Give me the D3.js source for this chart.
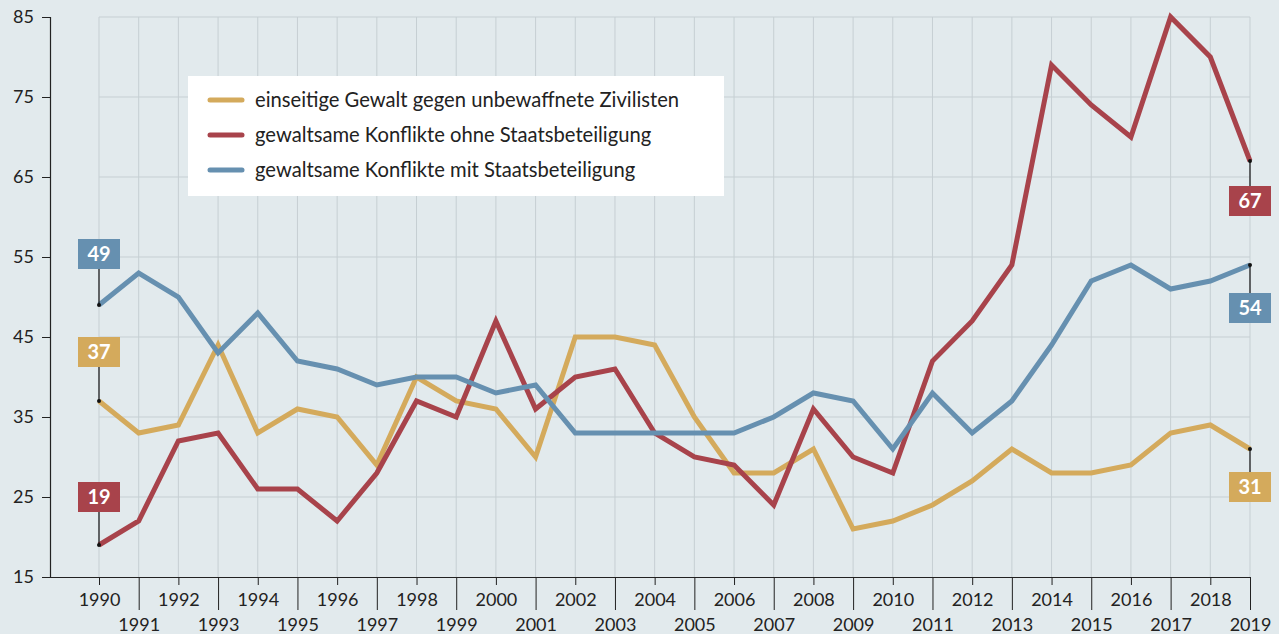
<!DOCTYPE html>
<html>
<head>
<meta charset="utf-8">
<script src="https://cdn.jsdelivr.net/npm/d3@7"></script>
<style>
  body { margin: 0; background: #e2eaed; }
  svg { display: block; font-family: Lato, "Open Sans", sans-serif; }
</style>
</head>
<body>
<svg id="chart"></svg>
<script>
var years = d3.range(1990, 2020)
var yTicks = [15, 25, 35, 45, 55, 65, 75, 85]

var einseitig = [37, 33, 34, 44, 33, 36, 35, 29, 40, 37, 36, 30, 45, 45, 44, 35, 28, 28, 31, 21, 22, 24, 27, 31, 28, 28, 29, 33, 34, 31]
var ohneStaat = [19, 22, 32, 33, 26, 26, 22, 28, 37, 35, 47, 36, 40, 41, 33, 30, 29, 24, 36, 30, 28, 42, 47, 54, 79, 74, 70, 85, 80, 67]
var mitStaat  = [49, 53, 50, 43, 48, 42, 41, 39, 40, 40, 38, 39, 33, 33, 33, 33, 33, 35, 38, 37, 31, 38, 33, 37, 44, 52, 54, 51, 52, 54]

var seriesNames = [
  "einseitige Gewalt gegen unbewaffnete Zivilisten",
  "gewaltsame Konflikte ohne Staatsbeteiligung",
  "gewaltsame Konflikte mit Staatsbeteiligung"
]
var colors = ["#d4aa5c", "#a8434b", "#6690b0"]

var series = [
  {name: seriesNames[0], values: einseitig, color: colors[0], startOff: -49, endOff: 38},
  {name: seriesNames[1], values: ohneStaat, color: colors[1], startOff: -48, endOff: 40},
  {name: seriesNames[2], values: mitStaat, color: colors[2], startOff: -51, endOff: 43}
]

var initGraph = function(target)
{
    var screen = {width:1279, height:634}
    var svg = d3.select(target)
        .attr("width", screen.width)
        .attr("height", screen.height)

    svg.append("rect")
        .attr("width", screen.width)
        .attr("height", screen.height)
        .attr("fill", "#e2eaed")

    var xScale = d3.scaleLinear()
        .domain([1990, 2019])
        .range([99, 1250])

    var yScale = d3.scaleLinear()
        .domain([15, 85])
        .range([577, 17])

    // grid
    var grid = svg.append("g").attr("stroke", "#c6cfd3").attr("stroke-width", 1)
    grid.selectAll("line.h")
        .data(yTicks.slice(1))
        .enter()
        .append("line")
        .attr("x1", xScale(1990))
        .attr("x2", xScale(2019))
        .attr("y1", function(d) { return yScale(d) })
        .attr("y2", function(d) { return yScale(d) })
    grid.selectAll("line.v")
        .data(years)
        .enter()
        .append("line")
        .attr("x1", function(d) { return xScale(d) })
        .attr("x2", function(d) { return xScale(d) })
        .attr("y1", yScale(85))
        .attr("y2", yScale(15))

    // y axis
    var yAxis = svg.append("g")
        .attr("transform", "translate(50,0)")
        .call(d3.axisLeft(yScale).tickValues(yTicks).tickSize(8).tickPadding(8))
    yAxis.select(".domain").attr("stroke", "#222").attr("stroke-width", 1.2)
    yAxis.selectAll(".tick line").attr("stroke", "#222")
    yAxis.selectAll("text")
        .attr("font-family", "Lato, sans-serif")
        .attr("font-size", 18)
        .attr("fill", "#222")

    // x axis
    var xAxis = svg.append("g")
        .attr("transform", "translate(0,577)")
        .call(d3.axisBottom(xScale).tickValues(years).tickFormat(d3.format("d")).tickSizeOuter(0))
    xAxis.select(".domain")
        .attr("d", "M42,0.5H" + xScale(2019))
        .attr("stroke", "#222").attr("stroke-width", 1.2)
    xAxis.selectAll(".tick line")
        .attr("stroke", "#222")
        .attr("y2", function(d) { return d % 2 === 0 ? 8 : 33 })
    xAxis.selectAll(".tick text")
        .attr("font-family", "Lato, sans-serif")
        .attr("font-size", 18)
        .attr("fill", "#222")
        .attr("dy", null)
        .attr("y", function(d) { return d % 2 === 0 ? 29 : 54 })

    // lines
    var lineGen = d3.line()
        .x(function(v, i) { return xScale(years[i]) })
        .y(function(v) { return yScale(v) })

    svg.append("g")
        .selectAll("path")
        .data(series)
        .enter()
        .append("path")
        .attr("fill", "none")
        .attr("stroke", function(s) { return s.color })
        .attr("stroke-width", 5)
        .attr("stroke-linejoin", "miter")
        .attr("d", function(s) { return lineGen(s.values) })

    // value labels at start and end
    var labels = []
    series.forEach(function(s)
    {
        labels.push({year: 1990, value: s.values[0], color: s.color, off: s.startOff})
        labels.push({year: 2019, value: s.values[s.values.length - 1], color: s.color, off: s.endOff})
    })

    var lab = svg.append("g")
        .selectAll("g")
        .data(labels)
        .enter()
        .append("g")
        .attr("transform", function(d) { return "translate(" + xScale(d.year) + "," + yScale(d.value) + ")" })

    lab.append("line")
        .attr("x1", 0).attr("x2", 0)
        .attr("y1", 0)
        .attr("y2", function(d) { return d.off })
        .attr("stroke", "#111")
        .attr("stroke-width", 1.2)
    lab.append("circle")
        .attr("r", 2)
        .attr("fill", "#111")
    lab.append("rect")
        .attr("x", -21)
        .attr("y", function(d) { return d.off - 15 })
        .attr("width", 42)
        .attr("height", 30)
        .attr("fill", function(d) { return d.color })
    lab.append("text")
        .attr("y", function(d) { return d.off })
        .attr("dy", "0.36em")
        .attr("text-anchor", "middle")
        .attr("fill", "white")
        .attr("font-weight", "bold")
        .attr("font-size", 20)
        .text(function(d) { return d.value })

    // legend
    var legend = svg.append("g")
    legend.append("rect")
        .attr("x", 188)
        .attr("y", 76)
        .attr("width", 536)
        .attr("height", 120)
        .attr("fill", "white")
    var items = legend.selectAll("g")
        .data(series)
        .enter()
        .append("g")
        .attr("transform", function(s, i) { return "translate(0," + (100 + i * 35) + ")" })
    items.append("line")
        .attr("x1", 210).attr("x2", 242)
        .attr("stroke", function(s) { return s.color })
        .attr("stroke-width", 5)
        .attr("stroke-linecap", "round")
    items.append("text")
        .attr("x", 255)
        .attr("dy", "0.35em")
        .attr("font-size", 20.2)
        .attr("fill", "#222")
        .text(function(s) { return s.name })
}

initGraph("#chart")
</script>
</body>
</html>
